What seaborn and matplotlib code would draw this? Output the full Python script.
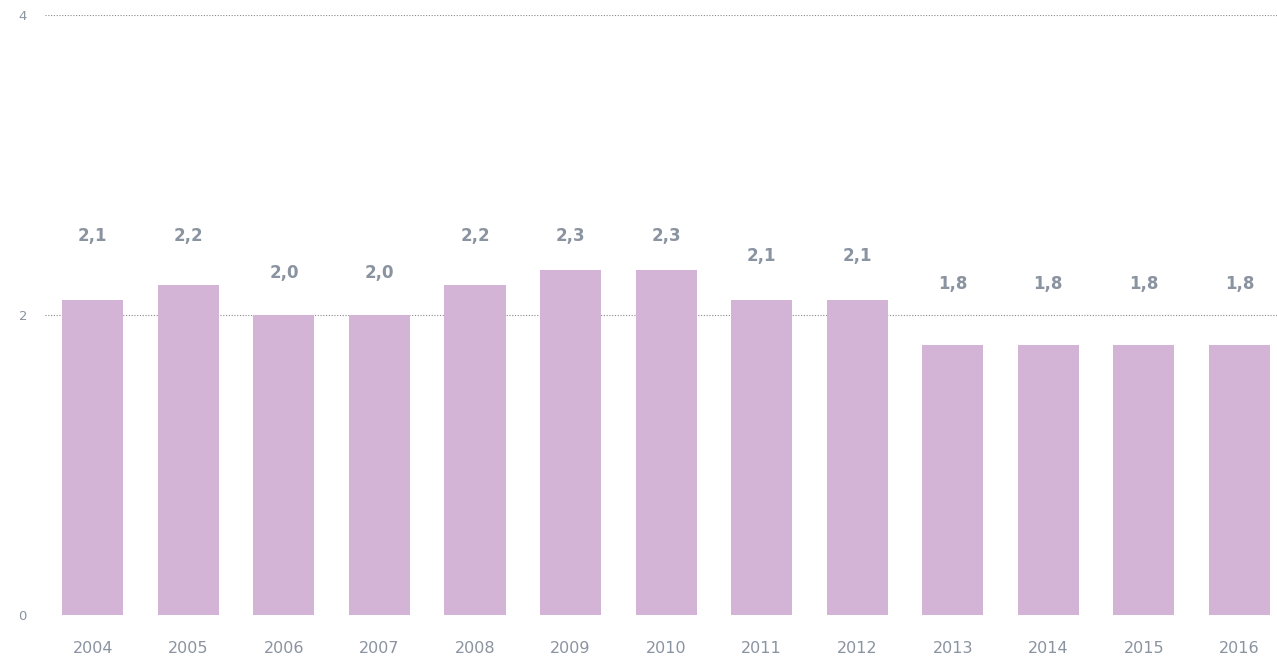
import matplotlib
matplotlib.use("Agg")
import matplotlib.pyplot as plt
import seaborn as sns
import pandas as pd
from matplotlib import font_manager

years = ["2004", "2005", "2006", "2007", "2008", "2009", "2010",
         "2011", "2012", "2013", "2014", "2015", "2016"]
values = [2.1, 2.2, 2.0, 2.0, 2.2, 2.3, 2.3, 2.1, 2.1, 1.8, 1.8, 1.8, 1.8]
value_labels = ["2,1", "2,2", "2,0", "2,0", "2,2", "2,3", "2,3",
                "2,1", "2,1", "1,8", "1,8", "1,8", "1,8"]
label_y = [2.53, 2.53, 2.28, 2.28, 2.53, 2.53, 2.53,
           2.39, 2.39, 2.21, 2.21, 2.21, 2.21]
y_ticks = [0, 2, 4]

sns.set_theme(style="white")
names = {f.name for f in font_manager.fontManager.ttflist}
fam = "Liberation Sans Narrow" if "Liberation Sans Narrow" in names else "DejaVu Sans"
plt.rcParams["font.family"] = [fam, "DejaVu Sans"]

text_color = "#8a93a0"
bar_color = "#d4b4d6"

df = pd.DataFrame({"year": years, "value": values})

fig = plt.figure(figsize=(12.77, 6.56), dpi=100)
ax = fig.add_axes([45 / 1277, 41 / 656, (1277 - 45) / 1277, 600 / 656])

sns.barplot(data=df, x="year", y="value", color=bar_color, saturation=1,
            width=0.64, ax=ax, zorder=3, linewidth=0, edgecolor="none")

ax.set_ylim(0, 4)
ax.set_xlim(-0.5, (1277 - 93.5) / 95.5)
ax.set_yticks(y_ticks)
for t in [2, 4]:
    ax.axhline(t, color="#8a8a8a", linestyle=(0, (1, 1.5)), linewidth=0.8, zorder=1)

for i, (lab, ly) in enumerate(zip(value_labels, label_y)):
    ax.text(i, ly, lab, ha="center", va="center", fontsize=12,
            fontweight="bold", color=text_color)

for s in ax.spines.values():
    s.set_visible(False)
ax.set_xlabel("")
ax.set_ylabel("")
ax.tick_params(axis="x", length=0, pad=19, labelsize=11.5, labelcolor=text_color)
ax.tick_params(axis="y", length=0, pad=16, labelsize=9.5, labelcolor=text_color)
for lbl in ax.get_yticklabels():
    lbl.set_horizontalalignment("center")

fig.savefig("out.png", dpi=100, facecolor="white")
